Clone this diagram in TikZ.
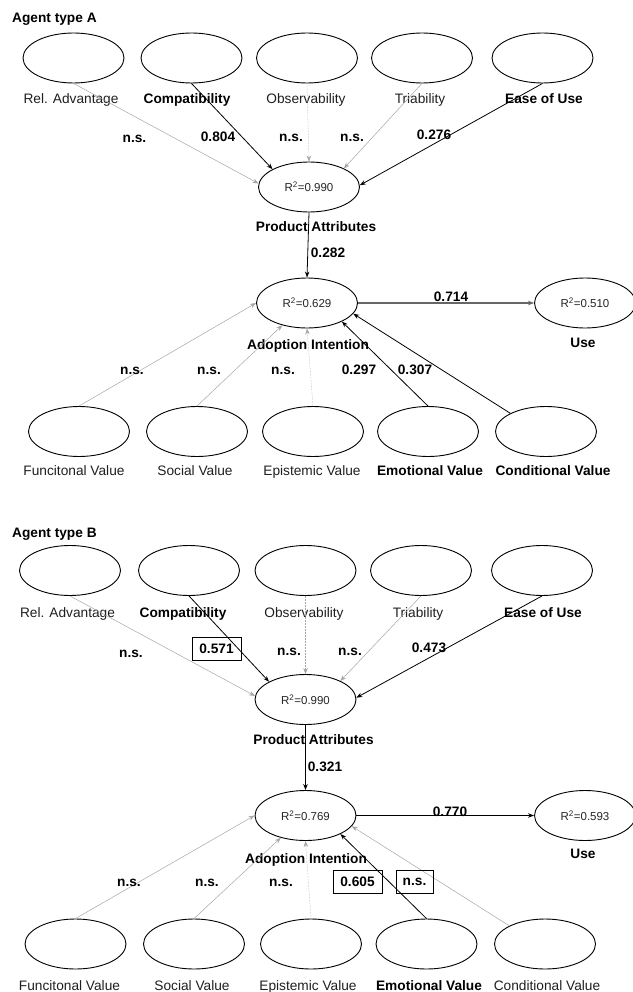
\documentclass[tikz,border=0pt]{standalone}
\usepackage{fontspec}
\setmainfont{Liberation Sans}
\usetikzlibrary{shapes.geometric,arrows.meta}
\begin{document}
\begin{tikzpicture}[x=1pt,y=-1pt,
 lv/.style={ellipse,draw=black,line width=0.9pt,fill=white,minimum width=101pt,minimum height=50pt,inner sep=0pt,font=\fontsize{11.5}{13}\selectfont,text=black!85},
 lab/.style={font=\fontsize{13.7}{16}\selectfont,text=black!88,inner sep=0pt,anchor=base},
 blab/.style={font=\fontsize{13.7}{16}\selectfont\bfseries,inner sep=0pt,anchor=base},
 sig/.style={-{Stealth[length=6pt,width=4.5pt]},line width=0.8pt,black},
 ns/.style={-{Stealth[length=6pt,width=4.5pt]},line width=0.5pt,gray!70},
 bx/.style={draw,line width=0.8pt,minimum height=23pt,inner sep=0pt,font=\fontsize{13.7}{16}\selectfont\bfseries},
]
\useasboundingbox (0,0) rectangle (632,992);

% ---------------- Agent type A ----------------
\node[blab,anchor=base west] (tA) at (12,23) {Agent type A};
\node[lv] (a1) at (73.5,58) {};
\node[lv] (a2) at (191.5,58) {};
\node[lv] (a3) at (307,58) {};
\node[lv] (a4) at (422,58) {};
\node[lv] (a5) at (542.5,58) {};
\node[lab]  (la1) at (71,104) {Rel. Advantage};
\node[blab] (la2) at (187,104) {Compatibility};
\node[lab]  (la3) at (306,104) {Observability};
\node[lab]  (la4) at (420,104) {Triability};
\node[blab] (la5) at (544,104) {Ease of Use};

\node[lv] (apa) at (309,187) {R\textsuperscript{2}=0.990};
\node[blab] (lapa) at (316,232) {Product Attributes};
\node[lv] (aai) at (307,303) {R\textsuperscript{2}=0.629};
\node[blab] (laai) at (308,349) {Adoption Intention};
\node[lv] (ause) at (585,303) {R\textsuperscript{2}=0.510};
\node[blab] (lause) at (583,347) {Use};

\node[lv] (a6) at (79,431.5) {};
\node[lv] (a7) at (197,431.5) {};
\node[lv] (a8) at (313,431.5) {};
\node[lv] (a9) at (428,431.5) {};
\node[lv] (a10) at (546,431.5) {};
\node[lab]  (la6) at (74,475) {Funcitonal Value};
\node[lab]  (la7) at (195,475) {Social Value};
\node[lab]  (la8) at (312,475) {Epistemic Value};
\node[blab] (la9) at (430,475) {Emotional Value};
\node[blab] (la10) at (553,475) {Conditional Value};

\draw[ns] (a1.south) -- (apa.176);
\draw[sig] (a2.south) -- (apa.154);
\draw[ns,densely dotted] (a3.south) -- (apa.north);
\draw[ns] (a4.south) -- (apa.28);
\draw[sig] (a5.south) -- (apa.2);
\draw[sig] (apa.south) -- (aai.north);
\draw[-{Stealth[length=6pt,width=4.5pt]},line width=1.4pt,black!60] (aai.east) -- (ause.west);
\draw[ns] (a6.north) -- (aai.180);
\draw[ns] (a7.north) -- (aai.222);
\draw[ns,densely dotted] (a8.north) -- (aai.south);
\draw[sig] (a9.north) -- (aai.332);
\draw[sig] (a10.153) -- (aai.347);

\node[blab] (ca1) at (134.5,143) {n.s.};
\node[blab] (ca2) at (218,142) {0.804};
\node[blab] (ca3) at (291,142) {n.s.};
\node[blab] (ca4) at (352,142) {n.s.};
\node[blab] (ca5) at (434,140) {0.276};
\node[blab] (ca6) at (328,258) {0.282};
\node[blab] (ca7) at (451,301) {0.714};
\node[blab] (ca8) at (132,374) {n.s.};
\node[blab] (ca9) at (209,374) {n.s.};
\node[blab] (ca10) at (283,374) {n.s.};
\node[blab] (ca11) at (359,374) {0.297};
\node[blab] (ca12) at (415,374) {0.307};

% ---------------- Agent type B ----------------
\node[blab,anchor=base west] (tB) at (12,537) {Agent type B};
\node[lv] (b1) at (70,570.5) {};
\node[lv] (b2) at (189,570.5) {};
\node[lv] (b3) at (305.5,570.5) {};
\node[lv] (b4) at (421,570.5) {};
\node[lv] (b5) at (542,570.5) {};
\node[lab]  (lb1) at (67.5,617) {Rel. Advantage};
\node[blab] (lb2) at (183,617) {Compatibility};
\node[lab]  (lb3) at (304,617) {Observability};
\node[lab]  (lb4) at (418,617) {Triability};
\node[blab] (lb5) at (543,617) {Ease of Use};

\node[lv] (bpa) at (305.5,699.5) {R\textsuperscript{2}=0.990};
\node[blab] (lbpa) at (313.5,744) {Product Attributes};
\node[lv] (bai) at (305.5,815.5) {R\textsuperscript{2}=0.769};
\node[blab] (lbai) at (306,863) {Adoption Intention};
\node[lv] (buse) at (585,815.5) {R\textsuperscript{2}=0.593};
\node[blab] (lbuse) at (583,858) {Use};

\node[lv] (b6) at (75.5,944) {};
\node[lv] (b7) at (194,944) {};
\node[lv] (b8) at (311,944) {};
\node[lv] (b9) at (426.5,944) {};
\node[lv] (b10) at (545,944) {};
\node[lab]  (lb6) at (69.5,990.5) {Funcitonal Value};
\node[lab]  (lb7) at (192,990.5) {Social Value};
\node[lab]  (lb8) at (308,990.5) {Epistemic Value};
\node[blab] (lb9) at (429,990.5) {Emotional Value};
\node[lab]  (lb10) at (547,990.5) {Conditional Value};

\draw[ns] (b1.south) -- (bpa.176);
\draw[sig] (b2.south) -- (bpa.154);
\draw[ns,densely dotted] (b3.south) -- (bpa.north);
\draw[ns] (b4.south) -- (bpa.28);
\draw[sig] (b5.south) -- (bpa.2);
\draw[sig] (bpa.south) -- (bai.north);
\draw[sig] (bai.east) -- (buse.west);
\draw[ns] (b6.north) -- (bai.180);
\draw[ns] (b7.north) -- (bai.222);
\draw[ns,densely dotted] (b8.north) -- (bai.south);
\draw[sig] (b9.north) -- (bai.332);
\draw[ns] (b10.153) -- (bai.347);

\node[blab] (cb1) at (131,657) {n.s.};
\node[bx,minimum width=49pt] (cb2) at (216.5,648.5) {0.571};
\node[blab] (cb3) at (289,655) {n.s.};
\node[blab] (cb4) at (350,655) {n.s.};
\node[blab] (cb5) at (429,652) {0.473};
\node[blab] (cb6) at (325,771) {0.321};
\node[blab] (cb7) at (450,816) {0.770};
\node[blab] (cb8) at (129,886) {n.s.};
\node[blab] (cb9) at (207,886) {n.s.};
\node[blab] (cb10) at (281,886) {n.s.};
\node[bx,minimum width=49pt] (cb11) at (357.5,881.5) {0.605};
\node[bx,minimum width=37pt] (cb12) at (414.5,881.5) {n.s.};
\end{tikzpicture}
\end{document}
